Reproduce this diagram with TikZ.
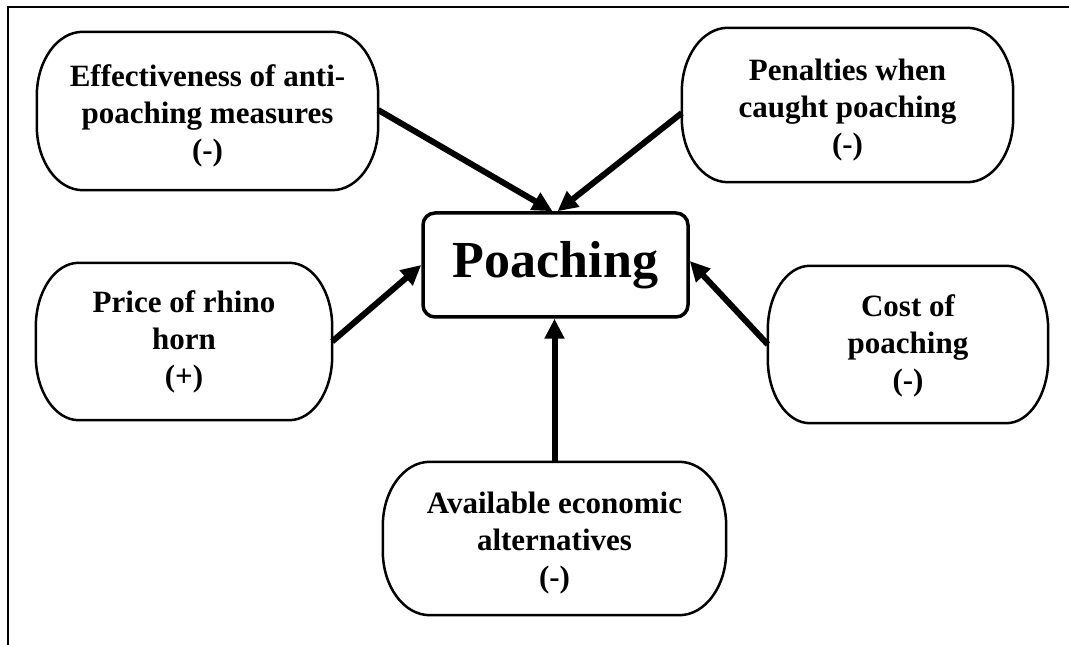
\documentclass[tikz,border=0pt]{standalone}
\usepackage{fontspec}
\setmainfont{Liberation Serif}
\usetikzlibrary{arrows.meta}
\newcommand\stadiumbox[4]{%
 \draw[boxline] ([xshift=#2,yshift=#4]#1.north west) -- ([xshift=-#2,yshift=#4]#1.north east)
   arc[start angle=90,end angle=0,x radius=#2,y radius=#3]
   -- ([yshift=#3+#4]#1.south east)
   arc[start angle=0,end angle=-90,x radius=#2,y radius=#3]
   -- ([xshift=#2,yshift=#4]#1.south west)
   arc[start angle=270,end angle=180,x radius=#2,y radius=#3]
   -- ([yshift=-#3+#4]#1.north west)
   arc[start angle=180,end angle=90,x radius=#2,y radius=#3] -- cycle;}
\begin{document}
\begin{tikzpicture}[x=1pt,y=1pt,
  factor/.style={align=center,inner sep=0pt,font=\fontsize{31}{37}\selectfont\bfseries},
  boxline/.style={line width=2.5pt},
  core/.style={draw,line width=3.5pt,rounded corners=12pt,minimum width=265pt,minimum height=104pt,inner sep=0pt,font=\fontsize{52}{60}\selectfont\bfseries},
  link/.style={line width=6pt,-{Triangle[length=20pt,width=19pt]}}]
\useasboundingbox (0,0) rectangle (1069,645);
\draw[line width=2.5pt] (8,0) -- (8,638) -- (1069,638);

\node[factor,minimum width=341pt,minimum height=158pt] (eff) at (207.5,529) {Effectiveness of anti-\\poaching measures\\(-)};
\node[factor,minimum width=331pt,minimum height=154pt] (pen) at (847.5,535) {Penalties when\\caught poaching\\(-)};
\node[core] (poach) at (555.5,380) {Poaching};
\node[factor,minimum width=296pt,minimum height=157pt] (price) at (184,303.5) {Price of rhino\\horn\\(+)};
\node[factor,minimum width=280pt,minimum height=157pt] (cost) at (908,299.5) {Cost of\\poaching\\(-)};
\node[factor,minimum width=343pt,minimum height=153pt] (alt) at (554.5,101.5) {Available economic\\alternatives\\(-)};

\stadiumbox{eff}{46pt}{64pt}{5pt}
\stadiumbox{pen}{46pt}{64pt}{5pt}
\stadiumbox{price}{43pt}{64pt}{0pt}
\stadiumbox{cost}{42pt}{64pt}{1pt}
\stadiumbox{alt}{47pt}{64pt}{5pt}

\draw[link] ([yshift=6pt]eff.east) -- ([xshift=-3pt]poach.north);
\draw[link] ([yshift=-3pt]pen.west) -- ([xshift=2pt]poach.north);
\draw[link] (price.east) -- (poach.west);
\draw[link] ([yshift=1pt]cost.west) -- ([yshift=4pt]poach.east);
\draw[link] ([yshift=5pt]alt.north) -- (alt.north |- poach.south);
\end{tikzpicture}
\end{document}
